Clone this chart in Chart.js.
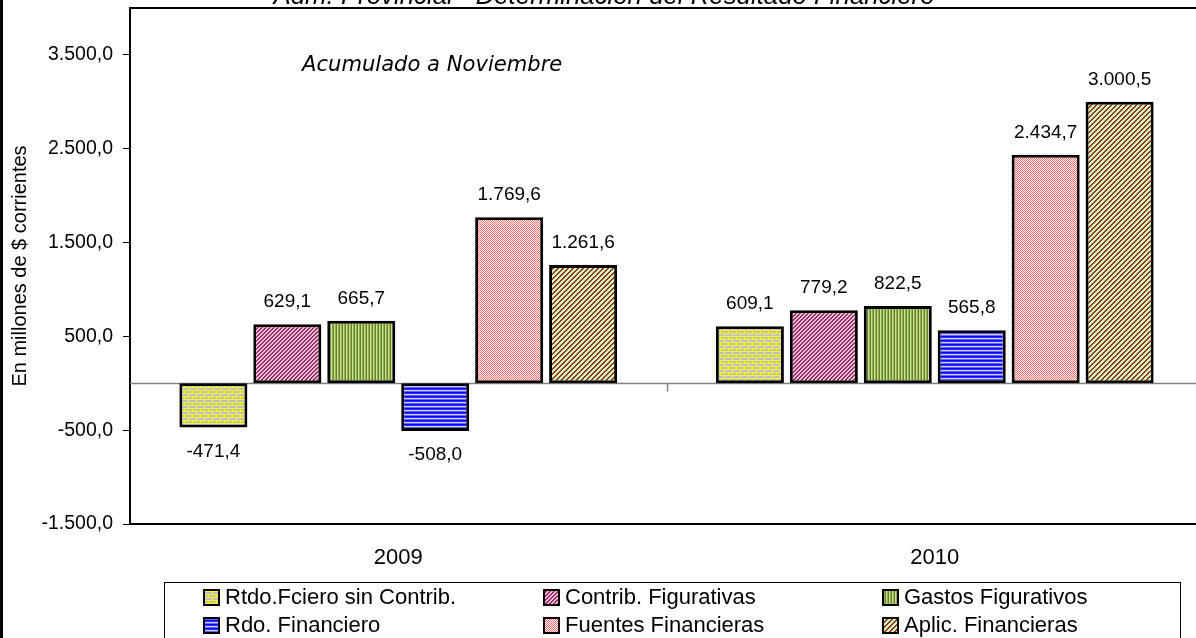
<!DOCTYPE html>
<html>
<head>
<meta charset="utf-8">
<script src="https://cdn.jsdelivr.net/npm/chart.js@4"></script>
<style>
  html, body { margin: 0; padding: 0; overflow: hidden; background: #fff; }
  canvas { display: block; }
</style>
</head>
<body>
<canvas id="chart" width="1210" height="638"></canvas>
<script>
// data
var years = ['2009', '2010'];
var seriesNames = ['Rtdo.Fciero sin Contrib.', 'Contrib. Figurativas', 'Gastos Figurativos',
                   'Rdo. Financiero', 'Fuentes Financieras', 'Aplic. Financieras'];
var rtdoSinContrib = [-471.4, 609.1];
var contribFig = [629.1, 779.2];
var gastosFig = [665.7, 822.5];
var rdoFinanciero = [-508.0, 565.8];
var fuentesFin = [1769.6, 2434.7];
var aplicFin = [1261.6, 3000.5];
var yTicks = [-1500, -500, 500, 1500, 2500, 3500];

var FONT = "'Liberation Sans', Arial, sans-serif";

function fmt(v) {
    var p = Math.abs(v).toFixed(1).split('.');
    return (v < 0 ? '-' : '') + p[0].replace(/\B(?=(\d{3})+(?!\d))/g, '.') + ',' + p[1];
}

// fill patterns like the old excel ones
var ctx = document.getElementById('chart').getContext('2d');
function pattern(w, h, fn) {
    var c = document.createElement('canvas');
    c.width = w; c.height = h;
    var g = c.getContext('2d');
    for (var y = 0; y < h; y++) {
        for (var x = 0; x < w; x++) {
            g.fillStyle = fn(x, y);
            g.fillRect(x, y, 1, 1);
        }
    }
    return ctx.createPattern(c, 'repeat');
}
var fills = [
    pattern(8, 6, function (x, y) {
        var row = Math.floor(y / 3);
        return (y % 3 === 0 || x === (row % 2 ? 4 : 0)) ? '#ffff00' : '#c0c0c0';
    }),
    pattern(4, 4, function (x, y) { return (x + y) % 4 < 2 ? '#993366' : '#eebfdc'; }),
    pattern(3, 1, function (x) { return ['#6b7f2a', '#c4e494', '#92b252'][x]; }),
    pattern(1, 4, function (x, y) { return ['#0000ff', '#3333ff', '#ccccff', '#6666ff'][y]; }),
    pattern(2, 2, function (x, y) { return (x + y) % 2 === 0 ? '#ff6f6f' : '#ffffff'; }),
    pattern(5, 5, function (x, y) { return (x + y) % 5 < 2 ? '#993300' : '#ccffcc'; })
];
var values = [rtdoSinContrib, contribFig, gastosFig, rdoFinanciero, fuentesFin, aplicFin];

var frame = {
    id: 'frame',
    beforeDatasetsDraw: function (chart) {
        var c = chart.ctx, a = chart.chartArea, y = chart.scales.y, x = chart.scales.x;
        var zero = Math.round(y.getPixelForValue(0)) + 0.5;
        c.save();
        c.strokeStyle = '#808080';
        c.lineWidth = 1.5;
        c.beginPath();
        c.moveTo(a.left, zero); c.lineTo(a.right, zero);
        var mid = Math.round((x.getPixelForTick(0) + x.getPixelForTick(1)) / 2) + 0.5;
        c.moveTo(mid, zero); c.lineTo(mid, zero + 8);
        c.stroke();
        c.strokeStyle = '#000';
        c.lineWidth = 2;
        c.beginPath();
        c.moveTo(a.left, a.top); c.lineTo(a.right + 5, a.top);
        c.moveTo(a.left, a.bottom); c.lineTo(a.right + 5, a.bottom);
        c.stroke();
        c.restore();
    },
    afterDraw: function (chart) {
        var c = chart.ctx;
        c.save();
        // value labels
        c.fillStyle = '#000';
        c.font = '19px ' + FONT;
        c.textAlign = 'center';
        c.textBaseline = 'middle';
        chart.data.datasets.forEach(function (ds, i) {
            chart.getDatasetMeta(i).data.forEach(function (bar, j) {
                var v = ds.data[j];
                c.fillText(fmt(v), bar.x, v >= 0 ? bar.y - 22 : bar.y + 24);
            });
        });
        // titles
        c.textBaseline = 'alphabetic';
        c.font = 'italic 24px ' + FONT;
        var t = 'Adm. Provincial - Determinación del Resultado Financiero';
        var s = 24 * 662 / c.measureText(t).width;
        c.font = 'italic ' + s.toFixed(1) + 'px ' + FONT;
        c.fillText(t, 604, 4);
        c.textAlign = 'left';
        c.font = "italic 22px 'Comic Sans MS', 'DejaVu Sans', sans-serif";
        var sub = 'Acumulado a Noviembre';
        s = 22 * 261 / c.measureText(sub).width;
        c.font = "italic " + s.toFixed(1) + "px 'Comic Sans MS', 'DejaVu Sans', sans-serif";
        c.fillText(sub, 302, 71);
        // legend
        c.strokeStyle = '#000';
        c.lineWidth = 1;
        c.strokeRect(164.5, 582.5, 1016, 100);
        var cols = [204, 544, 883], rows = [597, 625];
        c.font = '22px ' + FONT;
        c.textBaseline = 'middle';
        chart.data.datasets.forEach(function (ds, i) {
            var lx = cols[i % 3], ly = rows[Math.floor(i / 3)];
            c.fillStyle = ds.backgroundColor;
            c.fillRect(lx, ly - 7, 15, 15);
            c.lineWidth = 2;
            c.strokeRect(lx, ly - 7, 15, 15);
            c.fillStyle = '#000';
            c.fillText(ds.label, lx + 21, ly + 1);
        });
        // outer border on the left
        c.fillStyle = '#000';
        c.fillRect(0, 0, 3, 638);
        c.restore();
    }
};

new Chart('chart', {
    type: 'bar',
    data: {
        labels: years,
        datasets: seriesNames.map(function (name, i) {
            return {
                label: name,
                data: values[i],
                backgroundColor: fills[i],
                borderColor: '#000',
                borderWidth: 3,
                borderSkipped: false,
                categoryPercentage: 0.827,
                barPercentage: 0.92
            };
        })
    },
    options: {
        responsive: false,
        devicePixelRatio: 1,
        animation: false,
        layout: { padding: { top: 8, right: 7, left: 0, bottom: 0 } },
        plugins: {
            legend: { display: false },
            tooltip: { enabled: false }
        },
        scales: {
            x: {
                grid: { display: false, drawTicks: false },
                border: { display: false },
                ticks: { color: '#000', font: { family: FONT, size: 22 }, padding: 21 },
                afterFit: function (s) { s.height = 114; s.paddingLeft = 0; s.paddingRight = 0; }
            },
            y: {
                min: -1500,
                max: 4000,
                afterBuildTicks: function (s) {
                    s.ticks = yTicks.map(function (v) { return { value: v }; });
                },
                afterFit: function (s) { s.width = 130; s.paddingTop = 0; s.paddingBottom = 0; },
                grid: { drawOnChartArea: false, tickLength: 7, color: '#000' },
                border: { display: true, color: '#000', width: 2 },
                ticks: {
                    color: '#000',
                    padding: 10,
                    font: { family: FONT, size: 19.5 },
                    callback: function (v) { return fmt(v); }
                },
                title: {
                    display: true,
                    text: 'En millones de $ corrientes',
                    color: '#000',
                    font: { family: FONT, size: 20 },
                    padding: { top: 8, bottom: 0 }
                }
            }
        }
    },
    plugins: [frame]
});
</script>
</body>
</html>
